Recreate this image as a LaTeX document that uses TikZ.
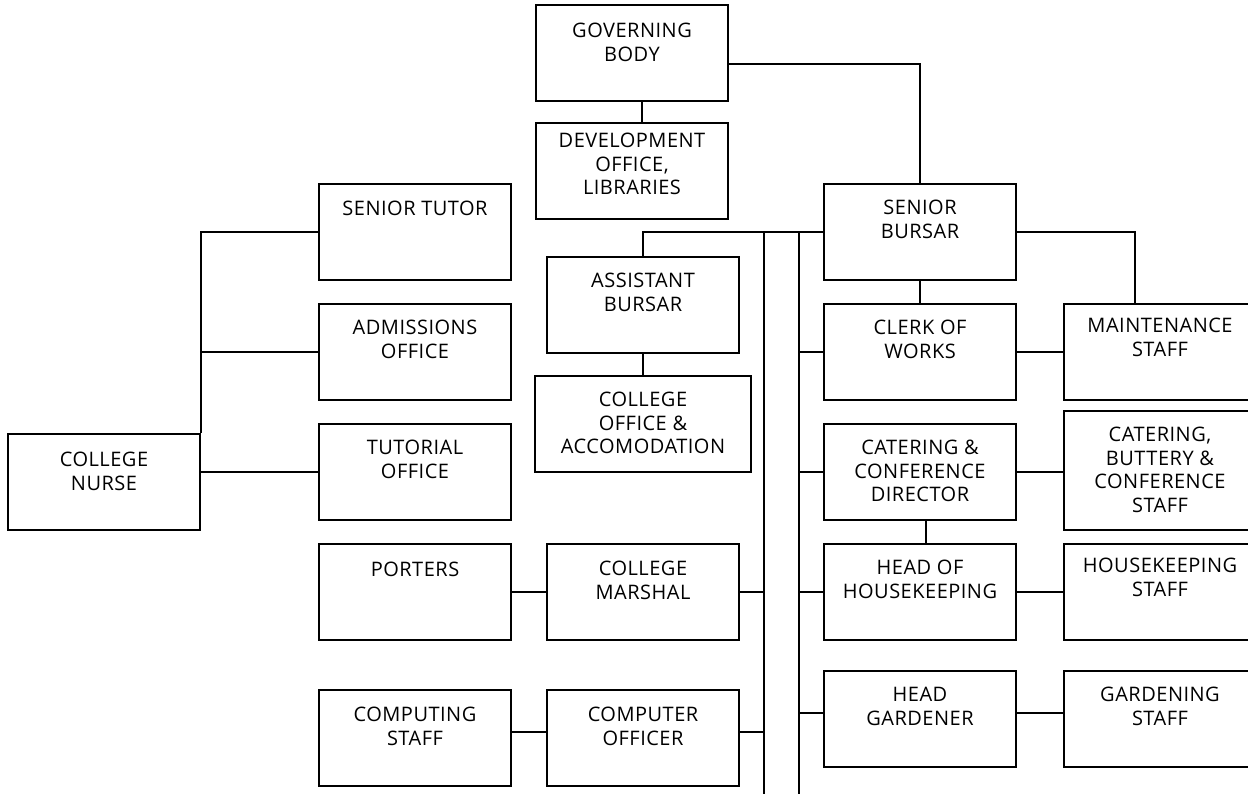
\documentclass[tikz,border=0pt]{standalone}
\usepackage{fontspec}
\setmainfont{Open Sans}[LetterSpace=2.5]
\begin{document}
\begin{tikzpicture}[x=1pt,y=-1pt,
  box/.style={draw, line width=2pt, minimum width=192pt, minimum height=96pt, anchor=north west, inner sep=0pt},
  lbl/.style={anchor=north, align=center, inner sep=0pt, font=\fontsize{20}{23.5}\selectfont},
  conn/.style={line width=2pt}]
\useasboundingbox (0,0) rectangle (1248,794);
\fill[white] (0,0) rectangle (1248,794);
\clip (0,0) rectangle (1248,794);
% boxes
\node[box] (gb) at (535,4) {};
\node[box] (dev) at (535,122) {};
\node[box] (sb) at (823,183) {};
\node[box] (st) at (318,183) {};
\node[box] (adm) at (318,303) {};
\node[box] (tut) at (318,423) {};
\node[box] (nurse) at (7,433) {};
\node[box] (por) at (318,543) {};
\node[box] (mar) at (546,543) {};
\node[box] (cst) at (318,689) {};
\node[box] (cof) at (546,689) {};
\node[box] (ab) at (546,256) {};
\node[box, minimum width=216pt] (co) at (534,375) {};
\node[box] (cow) at (823,303) {};
\node[box] (ccd) at (823,423) {};
\node[box] (hoh) at (823,543) {};
\node[box] (hg) at (823,670) {};
\node[box] (mnt) at (1063,303) {};
\node[box, minimum height=119pt] (cat) at (1063,410) {};
\node[box] (hks) at (1063,543) {};
\node[box] (gs) at (1063,670) {};
% labels
\node[lbl] at ([yshift=-19pt]gb.north) {GOVERNING\\BODY};
\node[lbl] at ([yshift=-11pt]dev.north) {DEVELOPMENT\\OFFICE,\\LIBRARIES};
\node[lbl] at ([yshift=-17pt]sb.north) {SENIOR\\BURSAR};
\node[lbl] at ([yshift=-18pt]st.north) {SENIOR TUTOR};
\node[lbl] at ([yshift=-17pt]adm.north) {ADMISSIONS\\OFFICE};
\node[lbl] at ([yshift=-17pt]tut.north) {TUTORIAL\\OFFICE};
\node[lbl] at ([yshift=-19pt]nurse.north) {COLLEGE\\NURSE};
\node[lbl] at ([yshift=-19pt]por.north) {PORTERS};
\node[lbl] at ([yshift=-18pt]mar.north) {COLLEGE\\MARSHAL};
\node[lbl] at ([yshift=-18pt]cst.north) {COMPUTING\\STAFF};
\node[lbl] at ([yshift=-18pt]cof.north) {COMPUTER\\OFFICER};
\node[lbl] at ([yshift=-17pt]ab.north) {ASSISTANT\\BURSAR};
\node[lbl] at ([yshift=-17pt]co.north) {COLLEGE\\OFFICE \&\\ACCOMODATION};
\node[lbl] at ([yshift=-17pt]cow.north) {CLERK OF\\WORKS};
\node[lbl] at ([yshift=-17pt]ccd.north) {CATERING \&\\CONFERENCE\\DIRECTOR};
\node[lbl] at ([yshift=-17pt]hoh.north) {HEAD OF\\HOUSEKEEPING};
\node[lbl] at ([yshift=-17pt]hg.north) {HEAD\\GARDENER};
\node[lbl] at ([yshift=-15pt]mnt.north) {MAINTENANCE\\STAFF};
\node[lbl] at ([yshift=-17pt]cat.north) {CATERING,\\BUTTERY \&\\CONFERENCE\\STAFF};
\node[lbl] at ([yshift=-15pt]hks.north) {HOUSEKEEPING\\STAFF};
\node[lbl] at ([yshift=-17pt]gs.north) {GARDENING\\STAFF};
% helper coordinates
\coordinate (xA) at (642,0);
\coordinate (busL) at (764,794);
\coordinate (busR) at (799,794);
\coordinate (xM) at (1135,0);
\coordinate (xH) at (926,0);
\coordinate (gbR) at ([yshift=-11pt]gb.east);
\coordinate (cofR) at ([yshift=6pt]cof.east);
\coordinate (cstR) at ([yshift=6pt]cst.east);
\coordinate (hgL) at ([yshift=6pt]hg.west);
\coordinate (hgR) at ([yshift=6pt]hg.east);
% connectors
\draw[conn] (gb.south -| xA) -- (dev.north -| xA);
\draw[conn] (gbR) -| (sb.north);
\draw[conn] (sb.west) -| (ab.north);
\draw[conn] (sb.west -| busL) -- (busL);
\draw[conn] (sb.west -| busR) -- (busR);
\draw[conn] (mar.east) -- (mar.east -| busL);
\draw[conn] (cofR) -- (cofR -| busL);
\draw[conn] (busR |- cow.west) -- (cow.west);
\draw[conn] (busR |- ccd.west) -- (ccd.west);
\draw[conn] (busR |- hoh.west) -- (hoh.west);
\draw[conn] (hgL -| busR) -- (hgL);
\draw[conn] (sb.south) -- (cow.north);
\draw[conn] (ccd.south -| xH) -- (hoh.north -| xH);
\draw[conn] (cow.east) -- (mnt.west);
\draw[conn] (ccd.east) -- (ccd.east -| cat.west);
\draw[conn] (hoh.east) -- (hks.west);
\draw[conn] (hgR) -- (hgR -| gs.west);
\draw[conn] (sb.east) -| (mnt.north -| xM);
\draw[conn] (ab.south) -- (co.north);
\draw[conn] (nurse.north east) -- (nurse.east |- st.west) -- (st.west);
\draw[conn] (nurse.east |- adm.west) -- (adm.west);
\draw[conn] (nurse.east |- tut.west) -- (tut.west);
\draw[conn] (por.east) -- (mar.west);
\draw[conn] (cstR) -- (cstR -| cof.west);
\end{tikzpicture}
\end{document}
